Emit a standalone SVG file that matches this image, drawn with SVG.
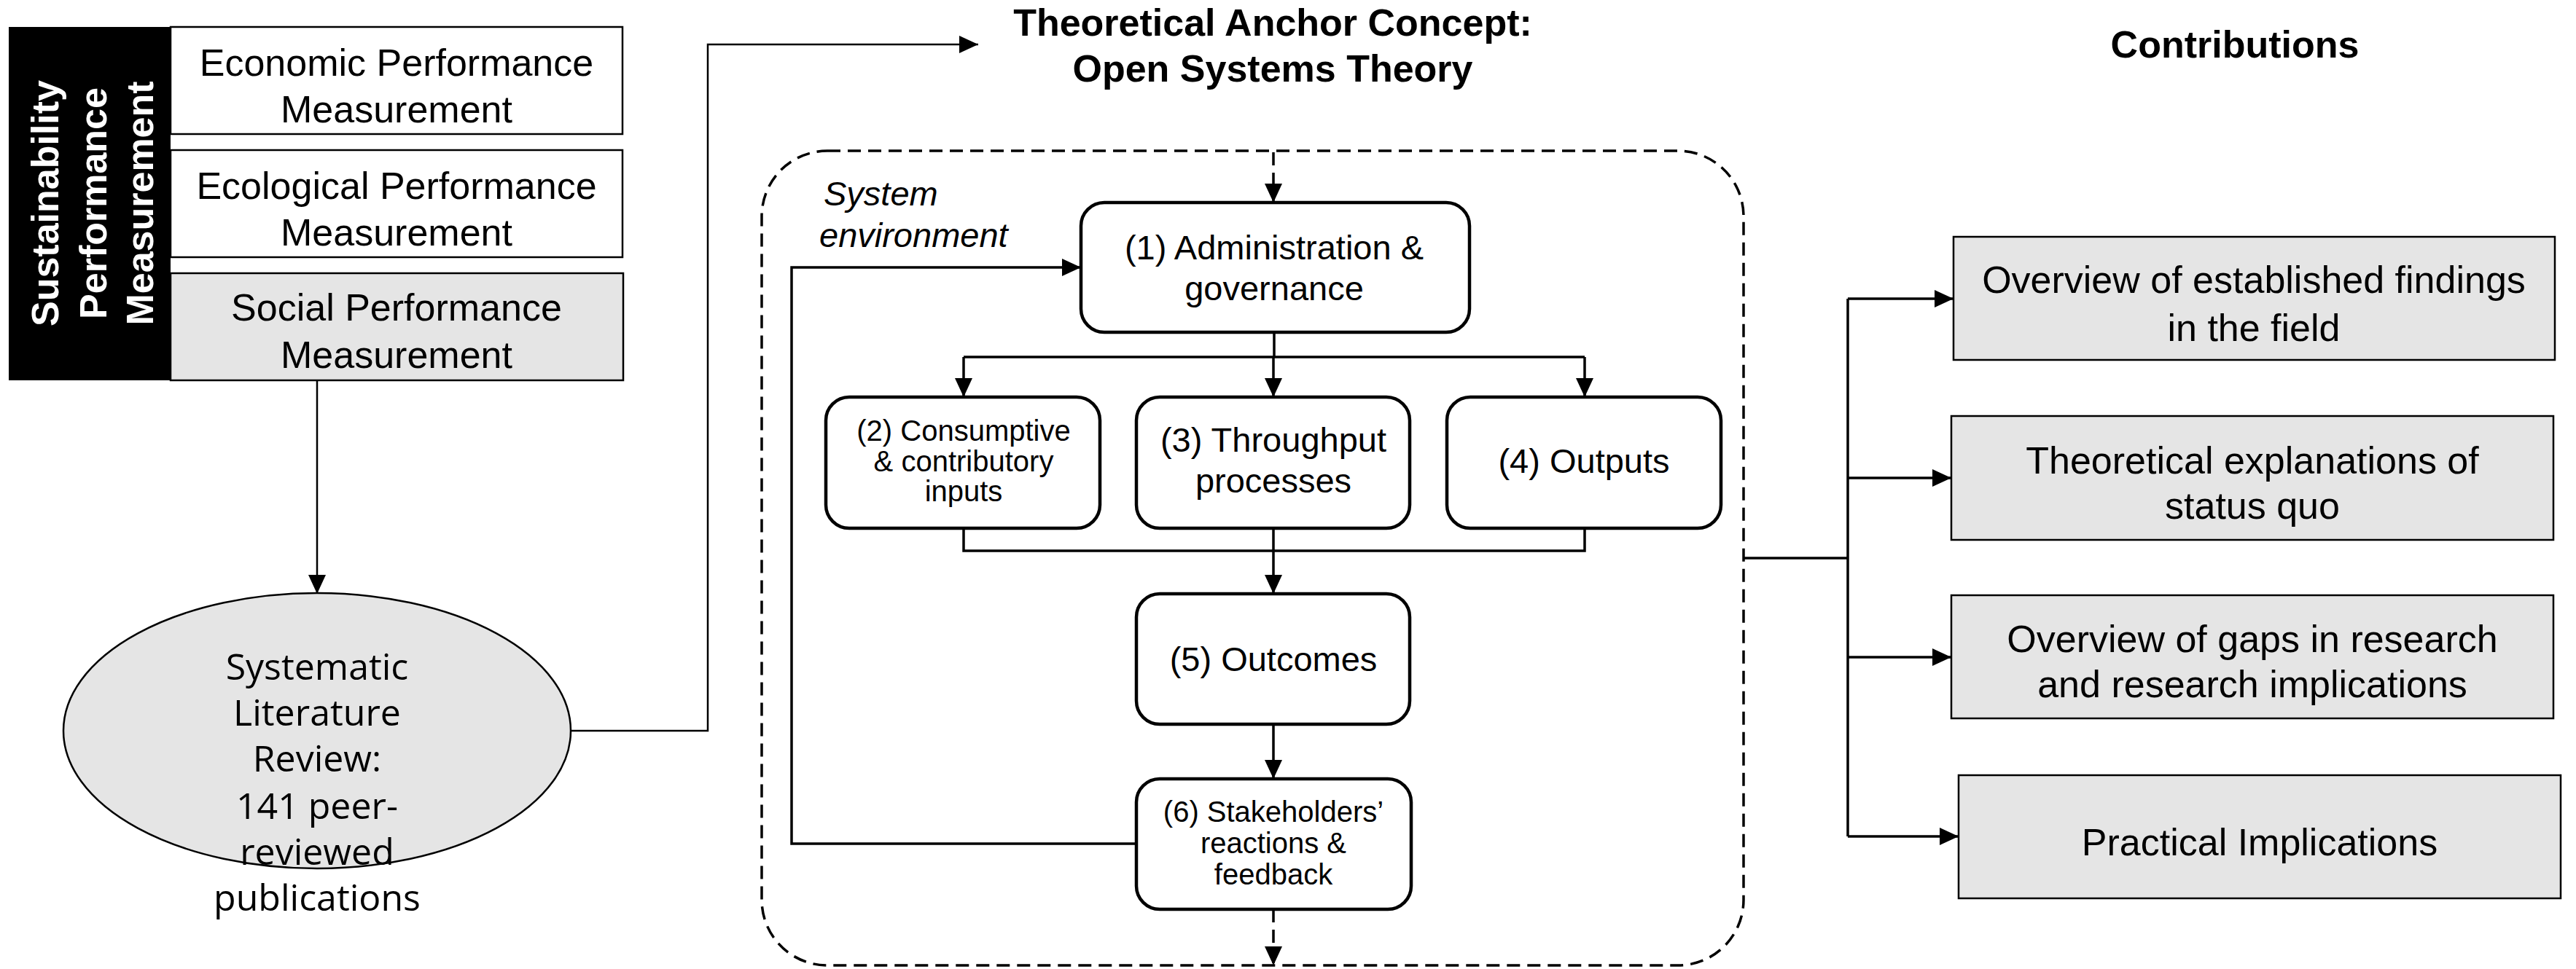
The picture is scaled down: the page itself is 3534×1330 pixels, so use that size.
<svg xmlns="http://www.w3.org/2000/svg" width="3534" height="1330" viewBox="0 0 3534 1330" font-family="'Liberation Sans', Arial, sans-serif">
<style>
text{font-family:"Liberation Sans",Arial,sans-serif;fill:#000}
.t{font-size:52px;text-anchor:middle}
.b{font-weight:bold}
.m{font-size:47px;text-anchor:middle}
.s{font-size:40px;text-anchor:middle}
.box{fill:#fff;stroke:#000;stroke-width:2.5}
.grey{fill:#e5e5e5;stroke:#000;stroke-width:2.5}
.rb{fill:#fff;stroke:#000;stroke-width:4.5}
.ln{fill:none;stroke:#000;stroke-width:2.5}
.lt{fill:none;stroke:#000;stroke-width:3.5}
.dash{fill:none;stroke:#000;stroke-width:3.5;stroke-dasharray:18 10}
text.ell{font-family:"Open Sans","Noto Sans",sans-serif;font-size:50px;text-anchor:middle}
</style>
<defs>
<marker id="arr" viewBox="0 0 26 24" refX="26" refY="12" markerWidth="26" markerHeight="24" markerUnits="userSpaceOnUse" orient="auto">
<path d="M0,0 L26,12 L0,24 z" fill="#000"/>
</marker>
</defs>

<g id="spm">
<rect x="12" y="37" width="222" height="485" fill="#000"/>
<g style="font-weight:bold;font-size:52px">
<text transform="translate(80,279) rotate(-90)" text-anchor="middle" style="fill:#fff">Sustainability</text>
<text transform="translate(146,279) rotate(-90)" text-anchor="middle" style="fill:#fff">Performance</text>
<text transform="translate(210,279) rotate(-90)" text-anchor="middle" style="fill:#fff">Measurement</text>
</g>
</g>
<g id="economic">
<rect class="box" x="234" y="37" width="620" height="147"/>
<text class="t" x="544" y="104">Economic Performance</text>
<text class="t" x="544" y="168">Measurement</text>
</g>
<g id="ecological">
<rect class="box" x="234" y="206" width="620" height="147"/>
<text class="t" x="544" y="273">Ecological Performance</text>
<text class="t" x="544" y="337">Measurement</text>
</g>
<g id="social">
<rect class="grey" x="234" y="375" width="621" height="147"/>
<text class="t" x="544" y="440">Social Performance</text>
<text class="t" x="544" y="505">Measurement</text>
</g>

<g id="review">
<ellipse cx="435" cy="1003" rx="348" ry="189" fill="#e5e5e5" stroke="#000" stroke-width="2.5"/>
<text class="ell" x="435" y="933">Systematic</text>
<text class="ell" x="435" y="996">Literature</text>
<text class="ell" x="435" y="1059">Review:</text>
<text class="ell" x="435" y="1124">141 peer-</text>
<text class="ell" x="435" y="1187">reviewed</text>
<text class="ell" x="435" y="1250">publications</text>
</g>

<g id="title-theory">
<text class="t b" x="1746" y="49">Theoretical Anchor Concept:</text>
<text class="t b" x="1746" y="112">Open Systems Theory</text>
</g>
<g id="title-contrib">
<text class="t b" x="3066" y="79">Contributions</text>
</g>

<g id="system-environment">
<rect class="dash" x="1045" y="207" width="1347" height="1118" rx="90" ry="90"/>
<text x="1130" y="282" style="font-size:47px;font-style:italic">System</text>
<text x="1124" y="339" style="font-size:47px;font-style:italic">environment</text>
</g>

<g id="n1">
<rect class="rb" x="1483" y="278" width="533" height="178" rx="32"/>
<text class="m" x="1748" y="356">(1) Administration &amp;</text>
<text class="m" x="1748" y="412">governance</text>
</g>
<g id="n2">
<rect class="rb" x="1133" y="545" width="376" height="180" rx="32"/>
<text class="s" x="1322" y="605">(2) Consumptive</text>
<text class="s" x="1322" y="647">&amp; contributory</text>
<text class="s" x="1322" y="688">inputs</text>
</g>
<g id="n3">
<rect class="rb" x="1559" y="545" width="375" height="180" rx="32"/>
<text class="m" x="1747" y="620">(3) Throughput</text>
<text class="m" x="1747" y="676">processes</text>
</g>
<g id="n4">
<rect class="rb" x="1985" y="545" width="376" height="180" rx="32"/>
<text class="m" x="2173" y="649">(4) Outputs</text>
</g>
<g id="n5">
<rect class="rb" x="1559" y="815" width="375" height="179" rx="32"/>
<text class="m" x="1747" y="921">(5) Outcomes</text>
</g>
<g id="n6">
<rect class="rb" x="1559" y="1069" width="377" height="179" rx="32"/>
<text class="s" x="1747" y="1128">(6) Stakeholders’</text>
<text class="s" x="1747" y="1171">reactions &amp;</text>
<text class="s" x="1747" y="1214">feedback</text>
</g>

<g id="c1">
<rect class="grey" x="2680" y="325" width="825" height="169"/>
<text class="t" x="3092" y="402">Overview of established findings</text>
<text class="t" x="3092" y="468">in the field</text>
</g>
<g id="c2">
<rect class="grey" x="2677" y="571" width="826" height="170"/>
<text class="t" x="3090" y="650">Theoretical explanations of</text>
<text class="t" x="3090" y="712">status quo</text>
</g>
<g id="c3">
<rect class="grey" x="2677" y="817" width="826" height="169"/>
<text class="t" x="3090" y="895">Overview of gaps in research</text>
<text class="t" x="3090" y="957">and research implications</text>
</g>
<g id="c4">
<rect class="grey" x="2687" y="1064" width="826" height="169"/>
<text class="t" x="3100" y="1174">Practical Implications</text>
</g>

<g id="connectors">
<path class="ln" d="M435,522 V815" marker-end="url(#arr)"/>
<path class="ln" d="M783,1003 H971 V61 H1342" marker-end="url(#arr)"/>
<path class="dash" d="M1747,209 V278" marker-end="url(#arr)"/>
<path class="lt" d="M1748,456 V490 M1322,490 H2174"/>
<path class="lt" d="M1322,490 V545" marker-end="url(#arr)"/>
<path class="lt" d="M1747,490 V545" marker-end="url(#arr)"/>
<path class="lt" d="M2174,490 V545" marker-end="url(#arr)"/>
<path class="lt" d="M1322,725 V756 H2174 V725"/>
<path class="lt" d="M1747,725 V815" marker-end="url(#arr)"/>
<path class="lt" d="M1747,994 V1069" marker-end="url(#arr)"/>
<path class="lt" d="M1559,1158 H1086 V367 H1483" marker-end="url(#arr)"/>
<path class="dash" d="M1747,1248 V1325" marker-end="url(#arr)"/>
<path class="lt" d="M2392,766 H2535 M2535,410 V1148"/>
<path class="lt" d="M2535,410 H2680" marker-end="url(#arr)"/>
<path class="lt" d="M2535,656 H2677" marker-end="url(#arr)"/>
<path class="lt" d="M2535,902 H2677" marker-end="url(#arr)"/>
<path class="lt" d="M2535,1148 H2687" marker-end="url(#arr)"/>
</g>
</svg>
